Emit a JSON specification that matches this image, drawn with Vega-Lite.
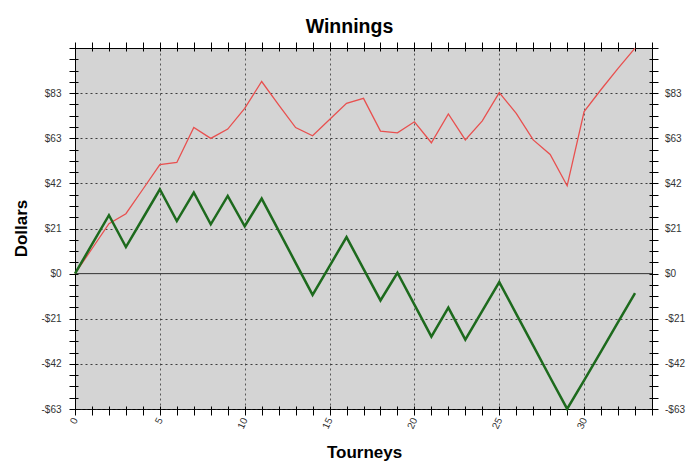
{
  "$schema": "https://vega.github.io/schema/vega-lite/v6.json",
  "width": 577,
  "height": 361,
  "autosize": "none",
  "padding": {"left": 75, "top": 48, "right": 48, "bottom": 66},
  "background": "white",
  "title": {"text": "Winnings", "font": "Liberation Sans", "fontSize": 19.5, "fontWeight": "bold", "color": "black", "anchor": "middle", "dx": -14, "dy": 28, "offset": 17, "baseline": "alphabetic"},
  "config": {
    "view": {"fill": "#d4d4d4", "stroke": "#000000", "strokeWidth": 1},
    "axis": {
      "domain": false,
      "labelFont": "Liberation Sans",
      "labelFontSize": 10,
      "labelColor": "#333333",
      "labelOverlap": false,
      "labelFlush": false,
      "labelBound": false,
      "tickColor": "#000000",
      "tickWidth": 1,
      "titleFont": "Liberation Sans",
      "titleFontSize": 17,
      "titleFontWeight": "bold",
      "titleColor": "#000000",
      "gridColor": "#222222",
      "gridDash": [2, 3],
      "gridWidth": 1
    }
  },
  "datasets": {
    "total": [
      {"t": 0, "v": 0}, {"t": 1, "v": 11.5}, {"t": 2, "v": 23.1}, {"t": 3, "v": 27.7}, {"t": 4, "v": 39.0},
      {"t": 5, "v": 50.4}, {"t": 6, "v": 51.4}, {"t": 7, "v": 67.6}, {"t": 8, "v": 62.5}, {"t": 9, "v": 66.8},
      {"t": 10, "v": 76.4}, {"t": 11, "v": 88.8}, {"t": 12, "v": 78.0}, {"t": 13, "v": 67.5}, {"t": 14, "v": 63.7},
      {"t": 15, "v": 71.2}, {"t": 16, "v": 78.7}, {"t": 17, "v": 81.0}, {"t": 18, "v": 65.9}, {"t": 19, "v": 65.1},
      {"t": 20, "v": 70.2}, {"t": 21, "v": 60.5}, {"t": 22, "v": 73.8}, {"t": 23, "v": 61.8}, {"t": 24, "v": 70.6},
      {"t": 25, "v": 83.7}, {"t": 26, "v": 74.1}, {"t": 27, "v": 61.8}, {"t": 28, "v": 55.1}, {"t": 29, "v": 40.6},
      {"t": 30, "v": 74.9}, {"t": 31, "v": 85.1}, {"t": 32, "v": 94.9}, {"t": 33, "v": 104.2}
    ],
    "net": [
      {"t": 0, "v": 0}, {"t": 1, "v": 13.5}, {"t": 2, "v": 27.0}, {"t": 3, "v": 12.3}, {"t": 4, "v": 25.6},
      {"t": 5, "v": 39.0}, {"t": 6, "v": 24.3}, {"t": 7, "v": 37.5}, {"t": 8, "v": 22.8}, {"t": 9, "v": 35.9},
      {"t": 10, "v": 21.9}, {"t": 11, "v": 34.7}, {"t": 12, "v": 19.9}, {"t": 13, "v": 5.0}, {"t": 14, "v": -9.8},
      {"t": 15, "v": 3.5}, {"t": 16, "v": 16.9}, {"t": 17, "v": 2.2}, {"t": 18, "v": -12.4}, {"t": 19, "v": 0.4},
      {"t": 20, "v": -14.3}, {"t": 21, "v": -29.1}, {"t": 22, "v": -15.7}, {"t": 23, "v": -30.5}, {"t": 24, "v": -17.2},
      {"t": 25, "v": -3.9}, {"t": 26, "v": -18.6}, {"t": 27, "v": -33.3}, {"t": 28, "v": -48.0}, {"t": 29, "v": -62.5},
      {"t": 30, "v": -49.3}, {"t": 31, "v": -35.9}, {"t": 32, "v": -22.4}, {"t": 33, "v": -9.0}
    ]
  },
  "resolve": {"axis": {"x": "independent", "y": "independent"}},
  "layer": [
    {
      "data": {"values": [{"zero": 0}]},
      "mark": {"type": "rule", "color": "#333333", "strokeWidth": 1},
      "encoding": {
        "y": {"field": "zero", "type": "quantitative", "scale": {"domain": [-62.57, 104.29], "nice": false, "zero": false}, "axis": null}
      }
    },
    {
      "data": {"name": "total"},
      "mark": {"type": "line", "color": "#e8504f", "strokeWidth": 1.3},
      "encoding": {
        "x": {
          "field": "t", "type": "quantitative",
          "scale": {"domain": [0, 34], "nice": false, "zero": false},
          "axis": {
            "orient": "bottom",
            "offset": -3,
            "values": [0,1,2,3,4,5,6,7,8,9,10,11,12,13,14,15,16,17,18,19,20,21,22,23,24,25,26,27,28,29,30,31,32,33,34],
            "tickSize": 9,
            "labelExpr": "(datum.value % 5 == 0 && datum.value <= 30) ? format(datum.value, 'd') : ''",
            "labelAngle": -65,
            "labelAlign": "right",
            "labelBaseline": "middle",
            "labelPadding": 3,
            "grid": true,
            "gridOpacity": {"condition": {"test": "datum.value % 5 == 0 && datum.value > 0 && datum.value < 34", "value": 0.7}, "value": 0},
            "title": "Tourneys",
            "titleX": 289,
            "titleY": 51,
            "titleAlign": "center",
            "titleBaseline": "alphabetic"
          }
        },
        "y": {
          "field": "v", "type": "quantitative",
          "scale": {"domain": [-62.57, 104.29], "nice": false, "zero": false},
          "axis": {
            "orient": "left",
            "offset": -3,
            "values": [-62.57, -57.36, -52.14, -46.93, -41.71, -36.5, -31.29, -26.07, -20.86, -15.64, -10.43, -5.21, 0, 5.21, 10.43, 15.64, 20.86, 26.07, 31.29, 36.5, 41.71, 46.93, 52.14, 57.36, 62.57, 67.79, 73, 78.21, 83.43, 88.64, 93.86, 99.07, 104.29],
            "tickSize": 9,
            "labelPadding": 8,
            "labelExpr": "(abs(datum.value/20.857 - round(datum.value/20.857)) < 0.05 && datum.value < 100) ? ((datum.value < -0.1 ? '-$' : '$') + format(abs(datum.value), '.0f')) : ''",
            "grid": true,
            "gridOpacity": {"condition": {"test": "abs(datum.value/20.857 - round(datum.value/20.857)) < 0.05 && datum.value < 100 && abs(datum.value) > 0.1", "value": 0.85}, "value": 0},
            "title": "Dollars",
            "titleAngle": 270,
            "titleX": -57,
            "titleY": 180,
            "titleAlign": "center",
            "titleBaseline": "middle"
          }
        }
      }
    },
    {
      "data": {"name": "net"},
      "mark": {"type": "line", "color": "#1d6a1d", "strokeWidth": 2.5},
      "encoding": {
        "x": {
          "field": "t", "type": "quantitative",
          "scale": {"domain": [0, 34], "nice": false, "zero": false},
          "axis": {
            "orient": "top",
            "offset": -3,
            "values": [0,1,2,3,4,5,6,7,8,9,10,11,12,13,14,15,16,17,18,19,20,21,22,23,24,25,26,27,28,29,30,31,32,33,34],
            "tickSize": 9,
            "labels": false,
            "grid": false,
            "title": null
          }
        },
        "y": {
          "field": "v", "type": "quantitative",
          "scale": {"domain": [-62.57, 104.29], "nice": false, "zero": false},
          "axis": {
            "orient": "right",
            "offset": -3,
            "values": [-62.57, -57.36, -52.14, -46.93, -41.71, -36.5, -31.29, -26.07, -20.86, -15.64, -10.43, -5.21, 0, 5.21, 10.43, 15.64, 20.86, 26.07, 31.29, 36.5, 41.71, 46.93, 52.14, 57.36, 62.57, 67.79, 73, 78.21, 83.43, 88.64, 93.86, 99.07, 104.29],
            "tickSize": 9,
            "labelPadding": 6.5,
            "labelExpr": "(abs(datum.value/20.857 - round(datum.value/20.857)) < 0.05 && datum.value < 100) ? ((datum.value < -0.1 ? '-$' : '$') + format(abs(datum.value), '.0f')) : ''",
            "grid": false,
            "title": null
          }
        }
      }
    }
  ]
}
